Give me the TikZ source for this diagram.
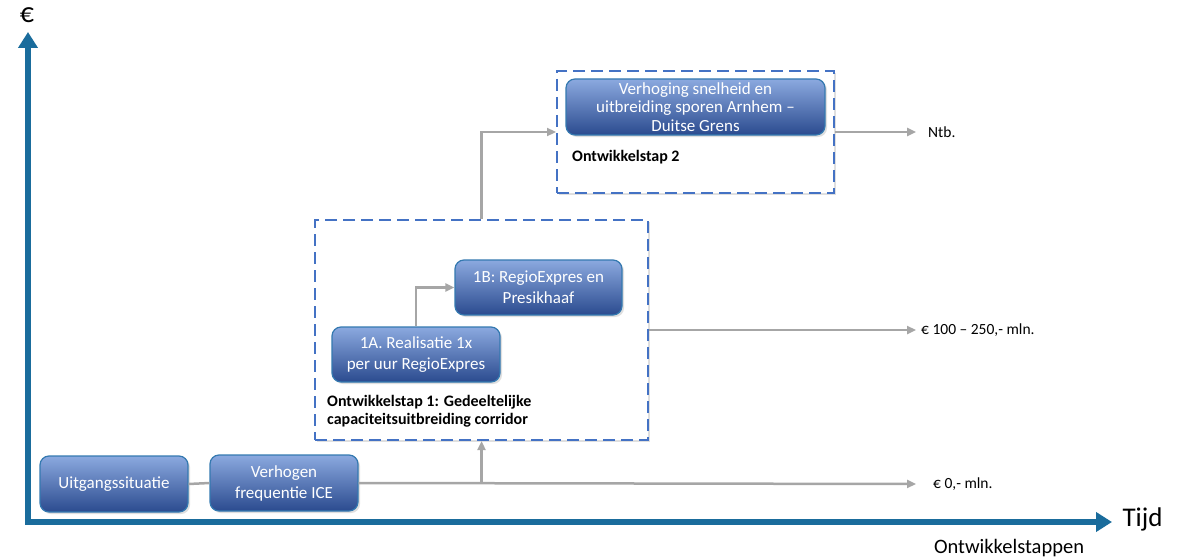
\documentclass[tikz,border=0pt]{standalone}
\usepackage{fontspec}
\setmainfont{Carlito}
\usetikzlibrary{arrows.meta,shadows}
\definecolor{axisblue}{HTML}{1A6C9C}
\definecolor{boxtop}{HTML}{8BA9DF}
\definecolor{boxbot}{HTML}{2B4B8F}
\definecolor{boxedge}{HTML}{3479B0}
\definecolor{dashblue}{HTML}{4472C4}
\definecolor{conngrey}{HTML}{A6A6A6}
\tikzset{
 stepbox/.style={draw=boxedge, line width=1.2pt, rounded corners=9pt, top color=boxtop, bottom color=boxbot, text=white, align=center, font=\fontsize{17}{21}\selectfont, inner sep=0pt, drop shadow={opacity=0.25, shadow xshift=2pt, shadow yshift=-2pt}},
 groupbox/.style={draw=dashblue, line width=2pt, dash pattern=on 12pt off 6pt, fill=white, inner sep=0pt, drop shadow={opacity=0.25, shadow xshift=2pt, shadow yshift=-2pt}},
 conn/.style={draw=conngrey, line width=2.5pt, -{Triangle[length=9pt,width=8pt]}},
 plainconn/.style={draw=conngrey, line width=2.5pt},
 axis/.style={draw=axisblue, line width=6pt, {Triangle[length=16pt,width=19pt]}-{Triangle[length=16pt,width=19pt]}},
 cost/.style={anchor=west, font=\fontsize{15.5}{18}\selectfont, inner sep=0pt},
 steplabel/.style={anchor=north west, align=left, font=\bfseries\fontsize{16}{18.5}\selectfont, inner sep=0pt},
}
\begin{document}
\begin{tikzpicture}[x=1pt,y=-1pt]
\useasboundingbox (0,0) rectangle (1190,559);
% axes
\coordinate (ytop) at (28,32);
\coordinate (corner) at (28,522);
\coordinate (xend) at (1112,522);
\draw[axis] (ytop) -- (corner) -- (xend);
\node[font=\fontsize{28}{32}\selectfont] (euro) at (27,15) {€};
\node[anchor=west, font=\fontsize{27}{30}\selectfont] (tijd) at (1119,519) {Tijd};
\node[font=\fontsize{20.5}{24}\selectfont] (ontw) at (1009,548) {Ontwikkelstappen};
% groups
\node[groupbox, minimum width=333pt, minimum height=220pt] (g1) at (481.5,330) {};
\node[groupbox, minimum width=277pt, minimum height=122pt] (g2) at (695.5,132) {};
% boxes
\node[stepbox, minimum width=148pt, minimum height=56pt] (u) at (114,484) {Uitgangssituatie};
\node[stepbox, minimum width=148pt, minimum height=56pt] (v) at (284,483) {Verhogen\\frequentie ICE};
\node[stepbox, minimum width=168pt, minimum height=55pt] (a1) at (416,354.5) {1A. Realisatie 1x\\per uur RegioExpres};
\node[stepbox, minimum width=167pt, minimum height=55pt] (b1) at (538.5,287.5) {1B: RegioExpres en\\Presikhaaf};
\node[stepbox, minimum width=259pt, minimum height=56pt, font=\fontsize{17}{18.5}\selectfont] (s2) at (695.5,107) {Verhoging snelheid en\\uitbreiding sporen Arnhem –\\Duitse Grens};
% labels
\node[steplabel] (l1) at (327,395) {Ontwikkelstap 1: Gedeeltelijke\\capaciteitsuitbreiding corridor};
\node[steplabel] (l2) at (572,150) {Ontwikkelstap 2};
% cost endpoints
\coordinate (e0) at (916,484);
\coordinate (e1) at (916,330);
\coordinate (e2) at (916,132);
\node[cost] (c0) at (933,484) {€ 0,- mln.};
\node[cost] (c1) at (921,330) {€ 100 – 250,- mln.};
\node[cost] (c2) at (928,132) {Ntb.};
% connectors
\draw[plainconn] (u.east) -- (v.west);
\draw[conn] (v.east) -- (e0);
\draw[conn] (g1.south |- v.east) -- (g1.south);
\draw[conn] (a1.north) |- (b1.west);
\draw[conn] (g1.north) |- (g2.west);
\draw[conn] (g1.east) -- (e1);
\draw[conn] (g2.east) -- (e2);
\end{tikzpicture}
\end{document}
